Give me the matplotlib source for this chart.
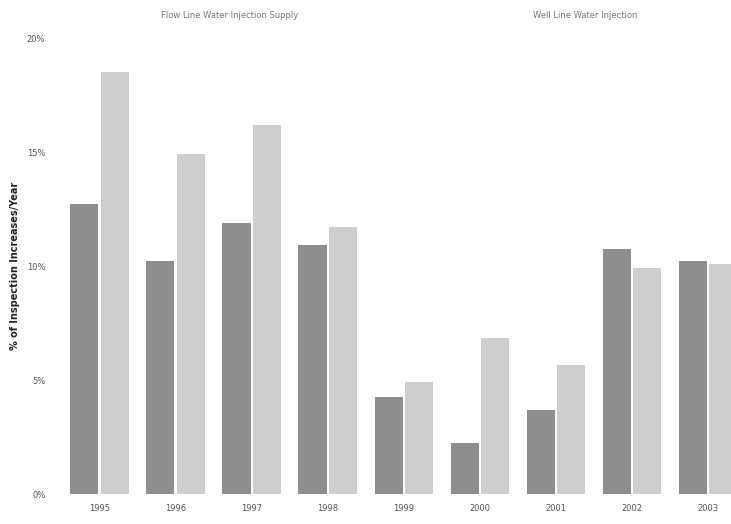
import matplotlib.pyplot as plt
import numpy as np

years = ['1995', '1996', '1997', '1998', '1999', '2000', '2001', '2002', '2003']
flow_line = [12.7, 10.2, 11.9, 10.9, 4.25, 2.25, 3.7, 10.75, 10.2]
well_line = [18.5, 14.9, 16.2, 11.7, 4.9, 6.85, 5.65, 9.9, 10.1]
labels = ['Flow Line Water Injection Supply', 'Well Line Water Injection']

fig = plt.figure(figsize=(7.31, 5.24), dpi=100)
ax = fig.add_axes([62 / 731, 30 / 524, 669 / 731, 456 / 524])

x = np.arange(len(years))
w = 0.37
ax.bar(x - w / 2 - 0.015, flow_line, w, color='#8e8e8e')
ax.bar(x + w / 2 + 0.015, well_line, w, color='#cecece')

ax.set_xlim(-0.493, 8.3)
ax.set_ylim(0, 20)
ax.set_yticks([0, 5, 10, 15, 20])
ax.set_yticklabels(['0%', '5%', '10%', '15%', '20%'])
ax.set_xticks(x)
ax.set_xticklabels(years)
ax.tick_params(length=0, labelsize=6, colors='#555555')
ax.tick_params(axis='y', pad=12)
ax.tick_params(axis='x', pad=7)
for s in ax.spines.values():
    s.set_visible(False)
ax.set_ylabel('% of Inspection Increases/Year', fontsize=7, fontweight='bold',
              color='#222222', labelpad=5)

# legend texts across the top
fig.text(230 / 731, 1 - 15 / 524, labels[0], ha='center', va='center',
         fontsize=6, color='#777777')
fig.text(585 / 731, 1 - 15 / 524, labels[1], ha='center', va='center',
         fontsize=6, color='#777777')

fig.savefig('out.png', dpi=100)
